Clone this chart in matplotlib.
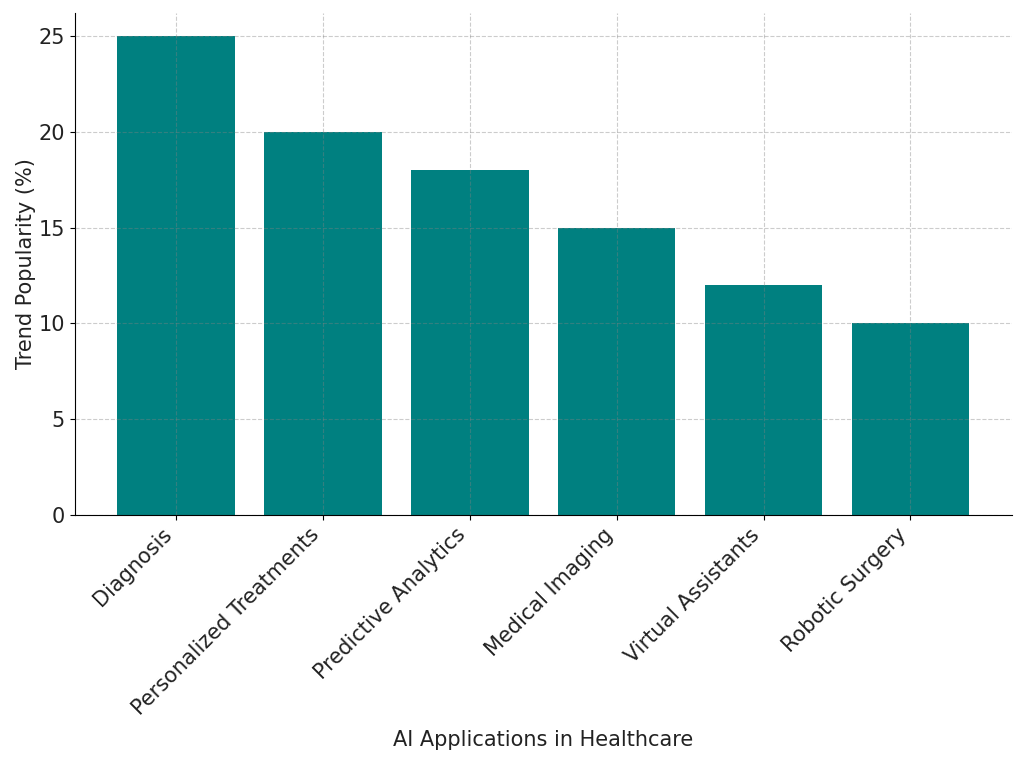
import matplotlib.pyplot as plt

categories = ['Diagnosis', 'Personalized Treatments', 'Predictive Analytics',
              'Medical Imaging', 'Virtual Assistants', 'Robotic Surgery']
popularity = [25, 20, 18, 15, 12, 10]

fig = plt.figure(figsize=(10.24, 7.65), dpi=100)
ax = fig.add_axes([0.073, 0.327, 0.915, 0.656])

ax.bar(categories, popularity, color='#008080', width=0.8, zorder=2)
ax.grid(True, linestyle='--', color='gray', alpha=0.4, linewidth=0.8, zorder=3)
ax.set_axisbelow(False)

ax.spines['top'].set_visible(False)
ax.spines['right'].set_visible(False)

ax.set_xlabel('AI Applications in Healthcare', fontsize=15, color='#222222', labelpad=8)
ax.set_ylabel('Trend Popularity (%)', fontsize=15, color='#222222', labelpad=2)
ax.tick_params(labelsize=15, labelcolor='#222222')
plt.setp(ax.get_xticklabels(), rotation=45, ha='right', rotation_mode='default')
ax.set_ylim(0, 26.2)

fig.savefig('out.png', dpi=100)
